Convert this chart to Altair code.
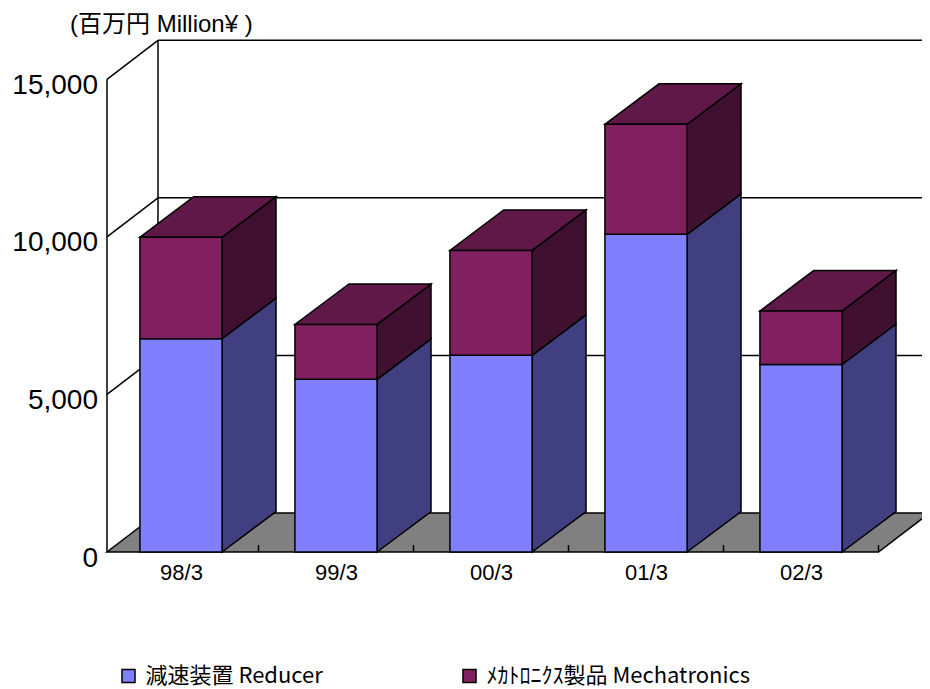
import altair as alt
import pandas as pd

# ---------------- data ----------------
categories = ["98/3", "99/3", "00/3", "01/3", "02/3"]
reducer = [6770, 5480, 6240, 10080, 5950]
mechatronics = [3220, 1740, 3330, 3490, 1700]
series_names = ["減速装置 Reducer", "ﾒｶﾄﾛﾆｸｽ製品 Mechatronics"]
y_ticks = [0, 5000, 10000, 15000]
unit_title = "(百万円 Million¥ )"

# ---------------- style ----------------
front_colors = ["#8080FF", "#802060"]
side_colors = ["#404080", "#401030"]
top_colors = ["#6060C0", "#601848"]
floor_color = "#808080"

# 3-D geometry in scale units (x: one unit per category, y: value units)
BAR_W = 0.53
BAR_DX, BAR_DY = 0.348, 1285
WALL_X0 = 0.0226
WALL_DX, WALL_DY = 0.329, 1238
X_MAX = 5.2806
Y_MAX = 16247
TICK_H = 220

xs = alt.Scale(domain=[0, X_MAX], nice=False, zero=False)
ys = alt.Scale(domain=[0, Y_MAX], nice=False, zero=False)

label_expr = "[" + ",".join(f"'{c}'" for c in categories) + "][floor(datum.value)]"
x_axis = alt.Axis(
    values=[k + 0.5 for k in range(len(categories))], labelExpr=label_expr,
    domain=False, ticks=False, grid=False, title=None,
)
y_axis = alt.Axis(
    values=y_ticks, labelExpr="format(datum.value, ',')",
    domain=False, ticks=False, grid=False, title=None,
)

fronts, sides, tops = [], [], []
for k, cat in enumerate(categories):
    L = k + 0.5 - BAR_W / 2
    R = k + 0.5 + BAR_W / 2
    base = 0
    for s, vals in enumerate([reducer, mechatronics]):
        v = vals[k]
        top = base + v
        fid = f"{cat}-{s}"
        fronts.append(dict(cat=cat, series=series_names[s], x=L, x2=R, y=base, y2=top))
        sides.append(dict(id=fid, fill=side_colors[s], x=R, y=base, y2=top))
        sides.append(dict(id=fid, fill=side_colors[s], x=R + BAR_DX, y=base + BAR_DY, y2=top + BAR_DY))
        base = top
    tops.append(dict(id=cat, fill=top_colors[1], y=base, x=L, x2=R))
    tops.append(dict(id=cat, fill=top_colors[1], y=base + BAR_DY, x=L + BAR_DX, x2=R + BAR_DX))

df_front = pd.DataFrame(fronts)
df_side = pd.DataFrame(sides)
df_top = pd.DataFrame(tops)

df_floor = pd.DataFrame([
    dict(id="floor", y=0, x=WALL_X0, x2=len(categories)),
    dict(id="floor", y=WALL_DY, x=WALL_X0 + WALL_DX, x2=len(categories) + WALL_DX),
])

lines = []
bx = WALL_X0 + WALL_DX
for g in y_ticks[1:]:
    lines.append(dict(x=bx, x2=X_MAX + 0.2, y=g + WALL_DY, y2=g + WALL_DY))  # back grid
    lines.append(dict(x=WALL_X0, x2=bx, y=g, y2=g + WALL_DY))                # left wall diag
lines.append(dict(x=bx, x2=bx, y=WALL_DY, y2=y_ticks[-1] + WALL_DY))        # back vertical
lines.append(dict(x=WALL_X0, x2=WALL_X0, y=0, y2=y_ticks[-1]))              # front vertical
for k in range(1, len(categories) + 1):
    lines.append(dict(x=k, x2=k, y=0, y2=TICK_H))                           # floor ticks
df_lines = pd.DataFrame(lines)

floor = alt.Chart(df_floor).mark_area(
    orient="horizontal", fill=floor_color, stroke="black", strokeWidth=1.5
).encode(
    y=alt.Y("y:Q", scale=ys, axis=y_axis),
    x=alt.X("x:Q", scale=xs, stack=None, axis=x_axis),
    x2="x2:Q",
    detail="id:N",
)

walls = alt.Chart(df_lines).mark_rule(color="black", strokeWidth=1.5).encode(
    x=alt.X("x:Q", scale=xs, axis=x_axis),
    x2="x2:Q",
    y=alt.Y("y:Q", scale=ys, axis=y_axis),
    y2="y2:Q",
)

side = alt.Chart(df_side).mark_area(
    orient="vertical", stroke="black", strokeWidth=1.5, opacity=1
).encode(
    x=alt.X("x:Q", scale=xs, axis=x_axis),
    y=alt.Y("y:Q", scale=ys, stack=None, axis=y_axis),
    y2="y2:Q",
    fill=alt.Fill("fill:N", scale=None),
    detail="id:N",
)

topf = alt.Chart(df_top).mark_area(
    orient="horizontal", stroke="black", strokeWidth=1.5, opacity=1
).encode(
    y=alt.Y("y:Q", scale=ys, axis=y_axis),
    x=alt.X("x:Q", scale=xs, stack=None, axis=x_axis),
    x2="x2:Q",
    fill=alt.Fill("fill:N", scale=None),
    detail="id:N",
)

front = alt.Chart(df_front).mark_rect(stroke="black", strokeWidth=1.5, opacity=1).encode(
    x=alt.X("x:Q", scale=xs, axis=x_axis),
    x2="x2:Q",
    y=alt.Y("y:Q", scale=ys, axis=y_axis),
    y2="y2:Q",
    color=alt.Color(
        "series:N",
        scale=alt.Scale(domain=series_names, range=front_colors),
        legend=alt.Legend(
            orient="none", legendX=14, legendY=625, direction="horizontal", title=None,
            symbolType="square", symbolSize=170, symbolStrokeColor="black",
            symbolStrokeWidth=1.5, symbolOpacity=1, labelFont="Noto Sans CJK JP",
            labelFontSize=22, labelColor="black", labelLimit=0, labelOffset=6,
            columnPadding=135, padding=0,
        ),
    ),
)

title = alt.Chart(pd.DataFrame({"t": [unit_title]})).mark_text(
    align="left", baseline="alphabetic", fontSize=24,
    font="Liberation Sans, Noto Sans CJK JP", color="black",
).encode(text="t:N", x=alt.value(-33.5), y=alt.value(-8))

chart = alt.layer(floor, walls, side, topf, front, title).properties(
    width=818.5, height=512,
    autosize=alt.AutoSizeParams(type="none"),
    padding={"left": 95.5, "top": 32, "right": 0, "bottom": 137},
    background="white",
).configure_view(
    stroke=None
).configure_axisX(
    labelFont="Liberation Sans", labelFontSize=22, labelColor="black",
    labelPadding=10, tickSize=0,
).configure_axisY(
    labelFont="Liberation Sans", labelFontSize=28, labelColor="black",
    labelPadding=6, labelOffset=6, tickSize=0,
)

chart.save("out.html", embed_options={"renderer": "svg", "actions": False})
